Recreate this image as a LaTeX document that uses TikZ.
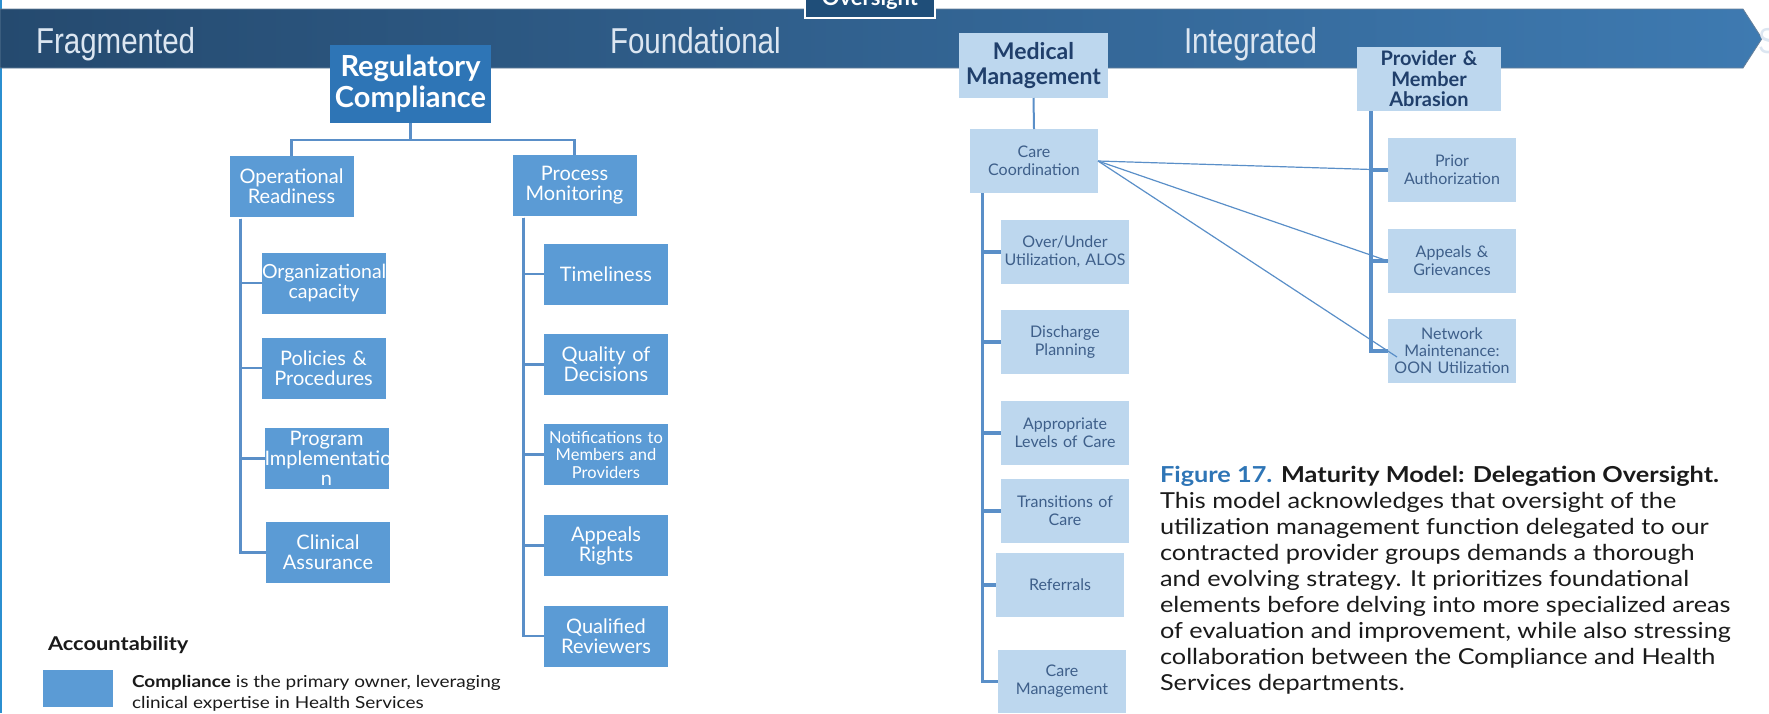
\documentclass[tikz,border=0pt]{standalone}
\usepackage{fontspec}
\setmainfont{Lato}
\newfontfamily\bannerfont[FakeStretch=0.82]{Liberation Sans}
\newfontfamily\widefont[FakeStretch=1.15]{Lato}
\usetikzlibrary{calc}
\definecolor{bandL}{HTML}{254A6F}
\definecolor{bandR}{HTML}{3E7AB1}
\definecolor{navy}{HTML}{1F4E79}
\definecolor{deep}{HTML}{2E75B6}
\definecolor{mid}{HTML}{5B9BD5}
\definecolor{pale}{HTML}{BDD7EE}
\definecolor{ink}{HTML}{3E5F8A}
\definecolor{headink}{HTML}{203F6B}
\definecolor{wire}{HTML}{5A8FC8}
\definecolor{bandtext}{HTML}{DCE6F1}
\definecolor{edge}{HTML}{2B8FD0}
\definecolor{bodytext}{HTML}{1A1A1A}
\newcommand{\pxsize}[2]{\fontsize{#1}{#2}\selectfont}

\begin{document}
\begin{tikzpicture}[x=1pt,y=-1pt,
  every node/.style={inner sep=0pt, outer sep=0pt},
  headbox/.style={fill=deep, text=white, font=\bfseries\pxsize{29}{31}, align=center},
  midbox/.style={fill=mid, text=white, font=\pxsize{20}{20}, align=center,
    text width=124pt, minimum height=61pt},
  palebox/.style={fill=pale, text=ink, font=\pxsize{16}{18}, align=center,
    text width=128pt, minimum height=64pt},
  palehead/.style={fill=pale, text=headink, align=center},
  spine/.style={draw=wire, line width=2.6pt},
  spinewide/.style={draw=wire, line width=3.2pt},
  link/.style={draw=wire, line width=1.2pt},
  bandlabel/.style={anchor=base west, text=bandtext, font=\bannerfont\pxsize{36}{36}},
  captext/.style={anchor=base west, text=bodytext, font=\widefont\pxsize{22}{26}},
]
\useasboundingbox (0,0) rectangle (1769,713);

% left page rule
\draw[edge, line width=2pt] (1,0) -- (1,713);

% maturity banner
\shade[left color=bandL, right color=bandR, draw=bandL!70!white, line width=0.8pt]
  (0,9) -- (1743,9) -- (1762,38.5) -- (1743,68) -- (0,68) -- cycle;
\node[bandlabel] (stage1) at (36,53) {Fragmented};
\node[bandlabel] (stage2) at (610,53) {Foundational};
\node[bandlabel] (stage3) at (1184,53) {Integrated};
\node[bandlabel] (stage4) at (1758,53) {S};

% title tab
\node[fill=navy, draw=white, line width=2pt, minimum width=130pt, minimum height=50pt] (tab) at (870,-7) {};
\node[anchor=base, text=white, font=\bfseries\pxsize{22}{22}] (tabtext) at (870,5) {Oversight};

% ---------------- Regulatory Compliance ----------------
\node[headbox, text width=161pt, minimum height=78pt] (reg) at (410.5,84) {Regulatory\\Compliance};

\node[midbox] (opr) at (291.5,186) {Operational\\Readiness};
\node[midbox] (pm)  at (574.5,185) {Process\\Monitoring};

\node[midbox, font=\pxsize{19.5}{20}] (org)  at (324,283)   {Organizational\\capacity};
\node[midbox] (pol)  at (323.5,368) {Policies \&\\Procedures};
\node[midbox] (prog) at (326.5,458.5) {Program\\Implementatio\\n};
\node[midbox] (clin) at (328,552.5) {Clinical\\Assurance};

\node[midbox] (time)  at (606,274)   {Timeliness};
\node[midbox] (qual)  at (606,364.5) {Quality of\\Decisions};
\node[midbox, font=\pxsize{16.5}{17.5}] (notif) at (606,454.5) {Notifications to\\Members and\\Providers};
\node[midbox] (appr)  at (606,545.5) {Appeals\\Rights};
\node[midbox] (qrev)  at (606,636)   {Qualified\\Reviewers};

\draw[spine] (reg.south) -- ++(0,17) coordinate (bus) -| (opr.north);
\draw[spine] (bus) -| (pm.north);

\coordinate (oprspine) at ($(opr.south west)+(11,2)$);
\foreach \c in {org,pol,prog,clin}
  \draw[spine] (oprspine) |- (\c.west);

\coordinate (pmspine) at ($(pm.south west)+(11,2)$);
\foreach \c in {time,qual,notif,appr,qrev}
  \draw[spine] (pmspine) |- (\c.west);

% ---------------- Medical Management ----------------
\node[palehead, font=\bfseries\pxsize{23}{25}, text width=149pt, minimum height=65pt] (mm) at (1033.5,65.5) {Medical\\Management};

\node[palebox] (cc)  at (1034,161) {Care\\Coordination};
\node[palebox] (ou)  at (1065,252) {Over/Under\\Utilization, ALOS};
\node[palebox] (dp)  at (1065,342) {Discharge\\Planning};
\node[palebox] (alc) at (1065,433) {Appropriate\\Levels of Care};
\node[palebox] (toc) at (1065,511) {Transitions of\\Care};
\node[palebox] (refl) at (1060,585) {Referrals};
\node[palebox, minimum height=63pt] (cm) at (1062,681.5) {Care\\Management};

\draw[wire, line width=2pt] (mm.south) -- (cc.north);
\coordinate (ccspine) at ($(cc.south west)+(12.5,0)$);
\foreach \c in {ou,dp,alc,toc,refl,cm}
  \draw[spinewide] (ccspine) |- (\c.west);

% ---------------- Provider & Member Abrasion ----------------
\node[palehead, font=\bfseries\pxsize{20}{20.5}, text width=144pt, minimum height=64pt] (pma) at (1429,79) {Provider \&\\Member\\Abrasion};

\node[palebox] (pa) at (1452,170) {Prior\\Authorization};
\node[palebox] (ag) at (1452,261) {Appeals \&\\Grievances};
\node[palebox, font=\pxsize{16}{17}] (nm) at (1452,351) {Network\\Maintenance:\\OON Utilization};

\coordinate (pmaspine) at ($(pma.south west)+(14,0)$);
\foreach \c in {pa,ag,nm}
  \draw[spinewide] (pmaspine) |- (\c.west);

% cross links from care coordination
\draw[link] (cc.east) -- (pa.west);
\draw[link] (cc.east) -- (ag.west);
\draw[link] (cc.east) -- ([shift={(9,6)}]nm.west);

% ---------------- legend ----------------
\node[anchor=base west, text=bodytext, font=\widefont\bfseries\pxsize{19}{20}] (acct) at (48,650) {Accountability};
\node[fill=mid, minimum width=70pt, minimum height=37pt] (swatch) at (78,688.5) {};
\node[anchor=base west, text=bodytext, font=\widefont\pxsize{16.5}{21}] (leg1) at (132,687) {\textbf{Compliance} is the primary owner, leveraging};
\node[anchor=base west, text=bodytext, font=\widefont\pxsize{16.5}{21}] (leg2) at (132,708) {clinical expertise in Health Services};

% ---------------- caption ----------------
\node[captext] (cap1) at (1160,482) {\textbf{\textcolor{deep}{Figure 17.}} \textbf{Maturity Model: Delegation Oversight.}};
\node[captext] (cap2) at (1160,508) {This model acknowledges that oversight of the};
\node[captext] (cap3) at (1160,534) {utilization management function delegated to our};
\node[captext] (cap4) at (1160,560) {contracted provider groups demands a thorough};
\node[captext] (cap5) at (1160,586) {and evolving strategy. It prioritizes foundational};
\node[captext] (cap6) at (1160,612) {elements before delving into more specialized areas};
\node[captext] (cap7) at (1160,638) {of evaluation and improvement, while also stressing};
\node[captext] (cap8) at (1160,664) {collaboration between the Compliance and Health};
\node[captext] (cap9) at (1160,690) {Services departments.};
\end{tikzpicture}
\end{document}
